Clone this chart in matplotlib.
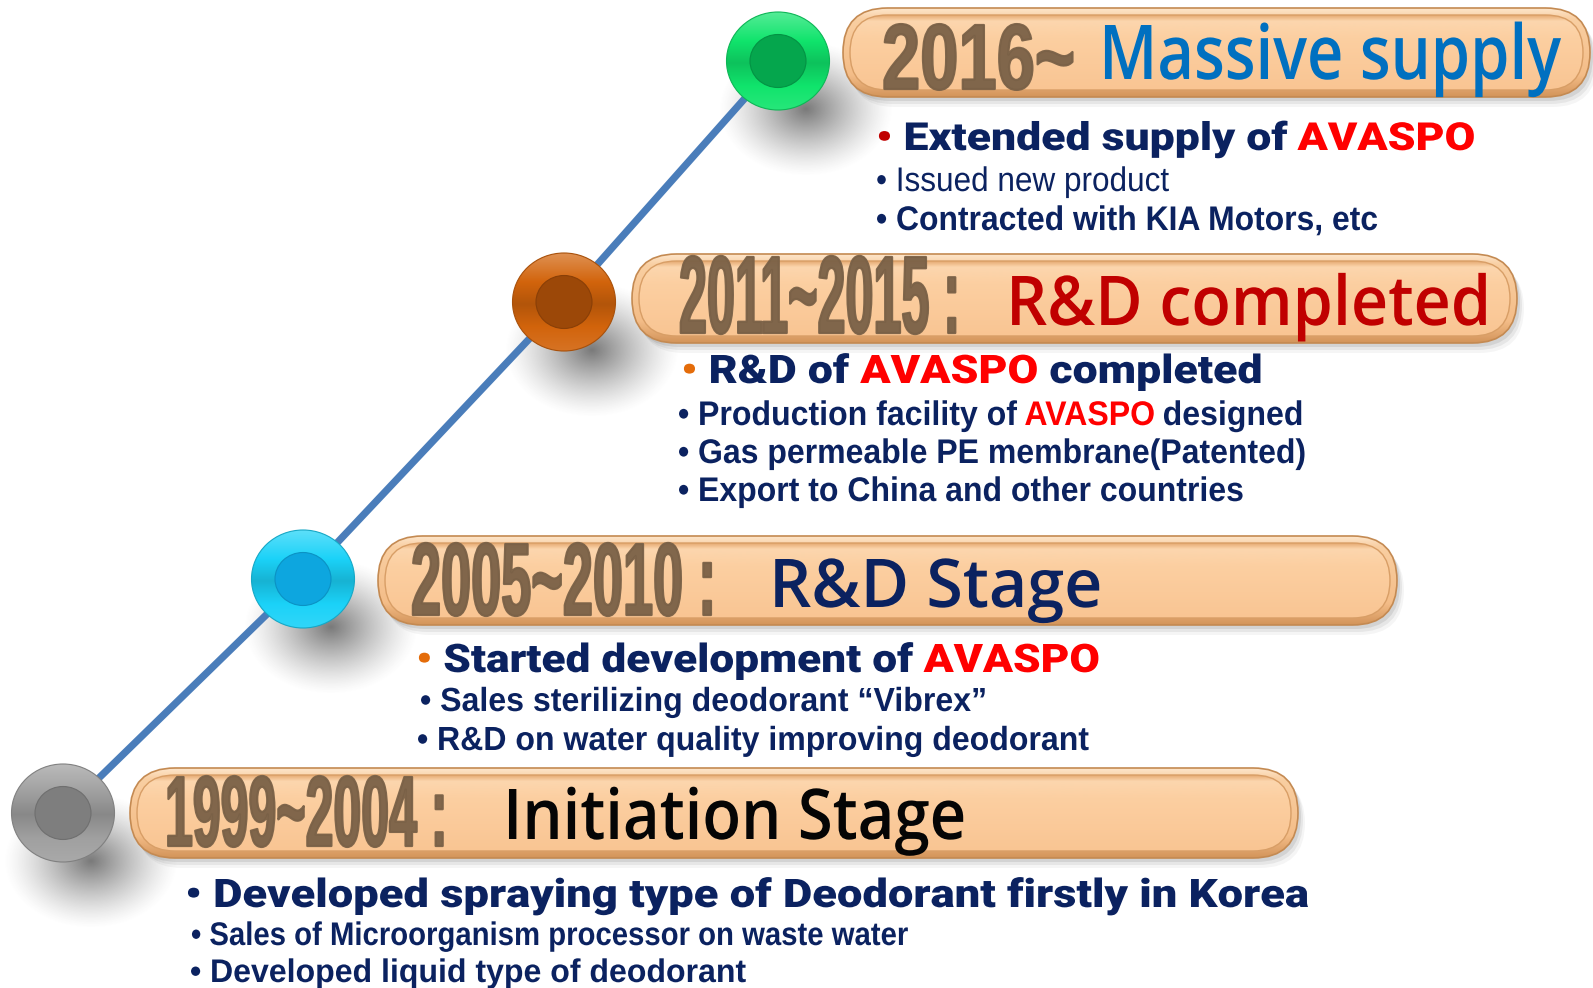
import numpy as np
import matplotlib
matplotlib.use("Agg")
import matplotlib.pyplot as plt
from matplotlib.patches import FancyBboxPatch, Ellipse
from matplotlib import patheffects, font_manager
from matplotlib.font_manager import FontProperties
from matplotlib.transforms import Affine2D
from matplotlib.textpath import TextPath
from matplotlib.colors import to_rgb

# ---------------- data ----------------
periods = ["1999~2004 :", "2005~2010 :", "2011~2015 :", "2016~"]
titles = ["Initiation Stage", "R&D Stage", "R&D completed", "Massive supply"]
headlines = [
    "Developed spraying type of Deodorant firstly in Korea",
    "Started development of AVASPO",
    "R&D of AVASPO completed",
    "Extended supply of AVASPO",
]
details = [
    ["Sales of Microorganism processor on waste water",
     "Developed liquid type of deodorant"],
    ["Sales sterilizing deodorant \u201cVibrex\u201d",
     "R&D on water quality improving deodorant"],
    ["Production facility of AVASPO designed",
     "Gas permeable PE membrane(Patented)",
     "Export to China and other countries"],
    ["Issued new product",
     "Contracted with KIA Motors, etc"],
]
highlight_word = "AVASPO"

# ---------------- styles ----------------
title_colors = ["#050505", "#0B2260", "#C00000", "#0070C0"]
bullet_colors = ["#0B2260", "#E46C0A", "#E46C0A", "#C00000"]
circle_outer = ["#A0A0A0", "#1BD2F8", "#D2640C", "#10E46C"]
circle_inner = ["#7E7E7E", "#0DA6DF", "#9C4808", "#05A64D"]
detail_weights = [["bold", "bold"], ["bold", "bold"], ["bold", "bold", "bold"], ["normal", "bold"]]
NAVY = "#0B2260"
RED = "#FF0000"
YEAR_COL = "#7A6147"
LINE_COL = "#4A7DBA"

# ---------------- layout (pixels) ----------------
layout = [
    dict(c=(63, 813), banner=(130, 768, 1298, 858), year=(165, 846, 447, 69), title=(503, 839, 965, 50),
         head=(185, 907, 1308, 28), det=[(191, 945, 907, 22.5), (190, 982, 745, 22.5)]),
    dict(c=(303, 579), banner=(378, 536, 1397, 625), year=(411, 615, 716, 71), title=(769, 607, 1102, 48),
         head=(416, 672, 1100, 28), det=[(420, 711, 986, 23), (417, 750, 1088, 23)]),
    dict(c=(564, 302), banner=(632, 254, 1517, 343), year=(679, 333, 960, 76), title=(1006, 325, 1490, 49),
         head=(681, 383, 1262, 28), det=[(678, 425, 1304, 23.5), (678, 463, 1305, 23.5), (678, 501, 1243, 23.5)]),
    dict(c=(778, 61), banner=(843, 8, 1590, 97), year=(882, 89, 1075, 64), title=(1099, 79, 1560, 54),
         head=(876, 150, 1476, 27.5), det=[(876, 191, 1169, 23.5), (876, 230, 1377, 23.5)]),
]

W, H, DPI = 1593, 988, 100
fig = plt.figure(figsize=(W / DPI, H / DPI), dpi=DPI)
ax = fig.add_axes([0, 0, 1, 1])
ax.set_xlim(0, W)
ax.set_ylim(H, 0)
ax.set_autoscale_on(False)
ax.axis("off")
renderer = fig.canvas.get_renderer()


def have(fam):
    try:
        font_manager.findfont(FontProperties(family=fam), fallback_to_default=False)
        return True
    except Exception:
        return False


NARROW = "Liberation Sans Narrow" if have("Liberation Sans Narrow") else "Liberation Sans"
HEAVY = "Roboto" if have("Roboto") else "DejaVu Sans"
TITLE_F = "Open Sans" if have("Open Sans") else "DejaVu Sans"


class Stretch(patheffects.AbstractPathEffect):
    """Scale glyphs vertically about the baseline (keeps the text's width);
    optionally thicken them with an outline of the same colour."""

    def __init__(self, sy, y0, stroke=0.0, color=None):
        super().__init__()
        self.sy = sy
        self.y0 = y0
        self.stroke = stroke
        self.color = color

    def draw_path(self, renderer, gc, tpath, affine, rgbFace=None):
        t = affine + Affine2D().translate(0, -self.y0).scale(1, self.sy).translate(0, self.y0)
        if self.stroke > 0:
            gc0 = renderer.new_gc()
            gc0.copy_properties(gc)
            gc0.set_linewidth(self.stroke)
            gc0.set_foreground(self.color)
            gc0.set_joinstyle("round")
            renderer.draw_path(gc0, tpath, t, rgbFace)
            gc0.restore()
        else:
            renderer.draw_path(gc, tpath, t, rgbFace)


def meas(s, fp):
    return renderer.get_text_width_height_descent(s, fp, ismath=False)[0]


def adv(prefix, fp):
    return meas(prefix + "H", fp) - meas("H", fp)


def draw_line(x, yb, segs, cap, x_end, family, weight, z=8, alpha=1.0, stroke=0.0):
    fp = FontProperties(family=family, weight=weight, size=40)
    full = "".join(s for s, _ in segs)
    w40 = meas(full, fp)
    fs_pt = 40.0 * (x_end - x) / w40
    fp.set_size(fs_pt)
    cap_nat = TextPath((0, 0), "H", size=fs_pt * DPI / 72.0, prop=fp).get_extents().height
    sy = cap / cap_nat
    y0d = ax.transData.transform((x, yb))[1]
    prefix = ""
    for s, col in segs:
        off = adv(prefix, fp) if prefix else 0.0
        xs = x + off
        ax.text(xs, yb, s, fontproperties=fp.copy(), color=col, ha="left", va="baseline",
                zorder=z, alpha=alpha, path_effects=[Stretch(sy, y0d, stroke, col)])
        prefix += s


def split_hl(text, base_col):
    parts = text.split(highlight_word)
    segs = []
    for i, p in enumerate(parts):
        if p:
            segs.append((p, base_col))
        if i < len(parts) - 1:
            segs.append((highlight_word, RED))
    return segs


def grad_fill(patch, extent, stops, z):
    n = 256
    ys = np.linspace(0, 1, n)
    pos = [p for p, _ in stops]
    cols = np.array([to_rgb(c) for _, c in stops])
    img = np.stack([np.interp(ys, pos, cols[:, k]) for k in range(3)], axis=-1)[:, None, :]
    im = ax.imshow(img, extent=extent, aspect="auto", zorder=z, interpolation="bilinear")
    im.set_clip_path(patch)


def blob(cx, cy, rx, ry, alpha, z):
    n = 160
    xs = np.linspace(-1, 1, n)
    X, Y = np.meshgrid(xs, xs)
    R = np.sqrt(X ** 2 + Y ** 2)
    a = np.clip(1 - R, 0, 1) ** 1.3 * alpha
    img = np.zeros((n, n, 4))
    img[..., :3] = 0.3
    img[..., 3] = a
    ax.imshow(img, extent=(cx - rx, cx + rx, cy + ry, cy - ry), zorder=z,
              interpolation="bilinear", aspect="auto")


def mix(c, f, to="white"):
    r = np.array(to_rgb(c))
    t = np.array(to_rgb(to))
    return tuple(r + (t - r) * f)


# ---------------- timeline line ----------------
cxs = [l["c"][0] for l in layout]
cys = [l["c"][1] for l in layout]
ax.plot(cxs, cys, color=LINE_COL, lw=5.2, zorder=2, solid_capstyle="butt")

for i, L in enumerate(layout):
    cx, cy = L["c"]
    # soft shadow of the circle
    blob(cx + 28, cy + 48, 88, 68, 0.75, 1)
    oc = circle_outer[i]
    outer = Ellipse((cx, cy), 103, 98, facecolor="none", edgecolor=mix(oc, 0.2, "black"),
                    lw=0.8, zorder=4)
    ax.add_patch(outer)
    grad_fill(outer, (cx - 52, cx + 52, cy + 50, cy - 50),
              [(0, mix(oc, 0.3)), (0.3, oc), (0.52, mix(oc, 0.15, "black")), (0.75, oc), (1, mix(oc, 0.1))], 3)
    inner = Ellipse((cx, cy), 56, 53, facecolor=circle_inner[i],
                    edgecolor=mix(circle_inner[i], 0.12, "black"), lw=0.8, zorder=4)
    ax.add_patch(inner)

    # banner
    x0, y0, x1, y1 = L["banner"]
    h = y1 - y0
    for dx, dy, a in [(7, 10, 0.04), (5, 7, 0.06), (3, 4, 0.08)]:
        ax.add_patch(FancyBboxPatch((x0 + dx, y0 + dy), x1 - x0, h,
                                    boxstyle=f"round,pad=0,rounding_size={h / 2}",
                                    facecolor="black", edgecolor="none", alpha=a, zorder=2.5))
    outerb = FancyBboxPatch((x0, y0), x1 - x0, h, boxstyle=f"round,pad=0,rounding_size={h / 2}",
                            facecolor="none", edgecolor="#C48A52", lw=1.2, zorder=4)
    ax.add_patch(outerb)
    grad_fill(outerb, (x0, x1, y1, y0),
              [(0, "#FDE5CB"), (0.12, "#F9CFA2"), (0.75, "#F4BD88"), (1, "#D3945A")], 3)
    ins = 7
    innerb = FancyBboxPatch((x0 + ins, y0 + ins), x1 - x0 - 2 * ins, h - 2 * ins,
                            boxstyle=f"round,pad=0,rounding_size={(h - 2 * ins) / 2}",
                            facecolor="none", edgecolor="#D89E66", lw=1.0, zorder=4.5)
    ax.add_patch(innerb)
    grad_fill(innerb, (x0 + ins, x1 - ins, y1 - ins, y0 + ins),
              [(0, "#E6AA72"), (0.08, "#FCD6AE"), (0.3, "#FCCFA1"), (1, "#F9C593")], 4.2)

    # banner texts
    yx, yb, yxe, ycap = L["year"]
    draw_line(yx, yb, [(periods[i], YEAR_COL)], ycap, yxe, NARROW, "bold", z=7, alpha=0.95, stroke=1.6)
    tx, tb, txe, tcap = L["title"]
    draw_line(tx, tb, [(titles[i], title_colors[i])], tcap, txe, TITLE_F, 600, z=7)

    # headline
    hx, hb, hxe, hcap = L["head"]
    segs = [("\u2022 ", bullet_colors[i])] + split_hl(headlines[i], NAVY)
    draw_line(hx, hb, segs, hcap, hxe, HEAVY, 900)

    # details
    for j, (dx_, db, dxe, dcap) in enumerate(L["det"]):
        segs = [("\u2022 ", NAVY)] + split_hl(details[i][j], NAVY)
        draw_line(dx_, db, segs, dcap, dxe, NARROW, detail_weights[i][j])

fig.savefig("out.png", dpi=DPI, facecolor="white")
